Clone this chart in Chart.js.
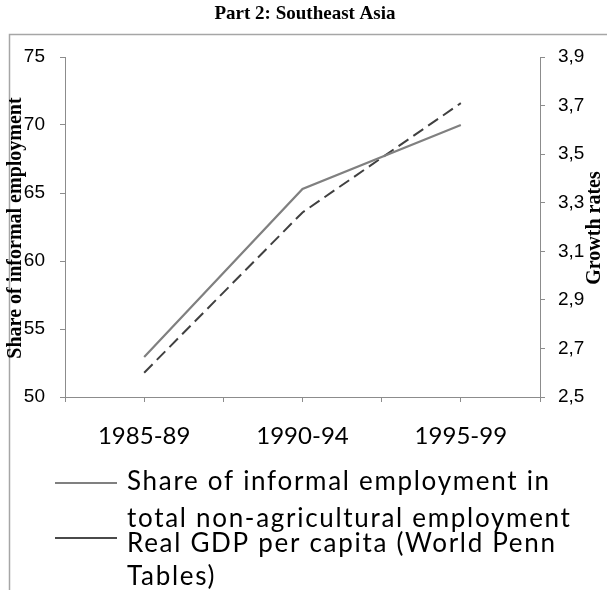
<!DOCTYPE html>
<html>
<head>
<meta charset="utf-8">
<script src="https://cdn.jsdelivr.net/npm/chart.js@4/dist/chart.umd.min.js"></script>
<style>
  html, body { margin: 0; padding: 0; background: #fff; }
  #wrap { position: relative; width: 607px; height: 590px; }
</style>
</head>
<body>
<div id="wrap"><canvas id="c" width="607" height="590"></canvas></div>
<script>
// ---- data ----
const chartTitle = 'Part 2: Southeast Asia';
const categories = ['1985-89', '1990-94', '1995-99'];
const informalShare = [52.95, 65.3, 70.0];      // left axis (%)
const realGdpGrowth = [2.60, 3.26, 3.71];       // right axis
const seriesNames = [
  ['Share of informal employment in', 'total non-agricultural employment'],
  ['Real GDP per capita (World Penn', 'Tables)']
];
const leftTicks = [50, 55, 60, 65, 70, 75];
const rightTicks = [2.5, 2.7, 2.9, 3.1, 3.3, 3.5, 3.7, 3.9];
const leftTitle = 'Share of informal employment';
const rightTitle = 'Growth rates';

// categories placed at odd positions of a 0..6 axis (ticks at every unit)
const toPoints = vals => vals.map((v, i) => ({ x: 2 * i + 1, y: v }));

const decorPlugin = {
  id: 'decor',
  beforeDraw(chart) {
    const ctx = chart.ctx;
    ctx.save();
    ctx.fillStyle = '#fff';
    ctx.fillRect(0, 0, chart.width, chart.height);
    // frame
    ctx.strokeStyle = '#a6a6a6';
    ctx.lineWidth = 1.5;
    ctx.beginPath();
    ctx.moveTo(9.5, 590);
    ctx.lineTo(9.5, 34.5);
    ctx.lineTo(607, 34.5);
    ctx.stroke();
    // title
    ctx.fillStyle = '#000';
    ctx.font = 'bold 19px "Liberation Serif", "Times New Roman", serif';
    ctx.textAlign = 'center';
    ctx.textBaseline = 'alphabetic';
    ctx.fillText(chartTitle, 305, 19);
    ctx.restore();
  },
  afterDraw(chart) {
    const ctx = chart.ctx;
    const area = chart.chartArea;
    const midY = (area.top + area.bottom) / 2;
    ctx.save();
    ctx.fillStyle = '#000';
    ctx.font = 'bold 20px "Liberation Serif", "Times New Roman", serif';
    ctx.textAlign = 'center';
    ctx.textBaseline = 'middle';
    // left axis title
    ctx.save();
    ctx.translate(16, midY + 1);
    ctx.rotate(-Math.PI / 2);
    ctx.fillText(leftTitle, 0, 0);
    ctx.restore();
    // right axis title (reads bottom-to-top)
    ctx.save();
    ctx.translate(595, midY + 1);
    ctx.rotate(-Math.PI / 2);
    ctx.fillText(rightTitle, 0, 0);
    ctx.restore();

    // legend
    const ds = chart.data.datasets;
    const baselines = [[490, 527], [552, 585]];
    const lineYs = [483, 538];
    ctx.font = '26px Lato, "Open Sans", sans-serif';
    ctx.textAlign = 'left';
    ctx.textBaseline = 'alphabetic';
    try { ctx.letterSpacing = '1.7px'; } catch (e) {}
    ds.forEach((d, i) => {
      ctx.strokeStyle = d.legendColor;
      ctx.lineWidth = 2;
      ctx.setLineDash([]);
      ctx.beginPath();
      ctx.moveTo(55, lineYs[i]);
      ctx.lineTo(117, lineYs[i]);
      ctx.stroke();
      const lines = Array.isArray(d.label) ? d.label : [d.label];
      lines.forEach((t, j) => ctx.fillText(t, 127, baselines[i][j]));
    });
    ctx.restore();
  }
};

const axisColor = '#8c8c8c';

new Chart(document.getElementById('c'), {
  type: 'line',
  data: {
    datasets: [
      {
        label: seriesNames[0],
        data: toPoints(informalShare),
        yAxisID: 'y',
        borderColor: '#808080',
        legendColor: '#808080',
        borderWidth: 2.2,
        pointRadius: 0,
        tension: 0
      },
      {
        label: seriesNames[1],
        data: toPoints(realGdpGrowth),
        yAxisID: 'y1',
        borderColor: '#404040',
        legendColor: '#4a4a4a',
        borderWidth: 2,
        borderDash: [12, 6],
        pointRadius: 0,
        tension: 0
      }
    ]
  },
  options: {
    responsive: false,
    animation: false,
    devicePixelRatio: 1,
    layout: { padding: { top: 57, left: 0, right: 0, bottom: 0 } },
    plugins: {
      legend: { display: false },
      title: { display: false },
      tooltip: { enabled: false }
    },
    scales: {
      x: {
        type: 'linear',
        min: 0,
        max: 2 * categories.length,
        afterBuildTicks(scale) {
          const t = [];
          for (let v = 0; v <= 2 * categories.length; v++) t.push({ value: v });
          scale.ticks = t;
        },
        ticks: {
          autoSkip: false,
          maxRotation: 0,
          padding: 20,
          color: '#000',
          font: { family: 'Lato, "Open Sans", sans-serif', size: 24 },
          callback: v => (v % 2 === 1 ? categories[(v - 1) / 2] : '')
        },
        grid: { drawOnChartArea: false, tickLength: 5, color: axisColor, lineWidth: 1 },
        border: { color: axisColor, width: 1 },
        afterFit(scale) { scale.height = 193; }
      },
      y: {
        position: 'left',
        min: leftTicks[0],
        max: leftTicks[leftTicks.length - 1],
        afterBuildTicks(scale) { scale.ticks = leftTicks.map(v => ({ value: v })); },
        ticks: {
          padding: 15,
          color: '#000',
          font: { family: '"Liberation Sans", Arial, sans-serif', size: 19 }
        },
        grid: { drawOnChartArea: false, tickLength: 5, color: axisColor },
        border: { color: axisColor, width: 1 },
        afterFit(scale) { scale.width = 65; }
      },
      y1: {
        position: 'right',
        min: rightTicks[0],
        max: rightTicks[rightTicks.length - 1],
        afterBuildTicks(scale) { scale.ticks = rightTicks.map(v => ({ value: v })); },
        ticks: {
          padding: 13,
          color: '#000',
          font: { family: '"Liberation Sans", Arial, sans-serif', size: 19 },
          callback: v => Number(v).toFixed(1).replace('.', ',')
        },
        grid: { drawOnChartArea: false, tickLength: 5, color: axisColor },
        border: { color: axisColor, width: 1 },
        afterFit(scale) { scale.width = 67; }
      }
    }
  },
  plugins: [decorPlugin]
});
</script>
</body>
</html>
